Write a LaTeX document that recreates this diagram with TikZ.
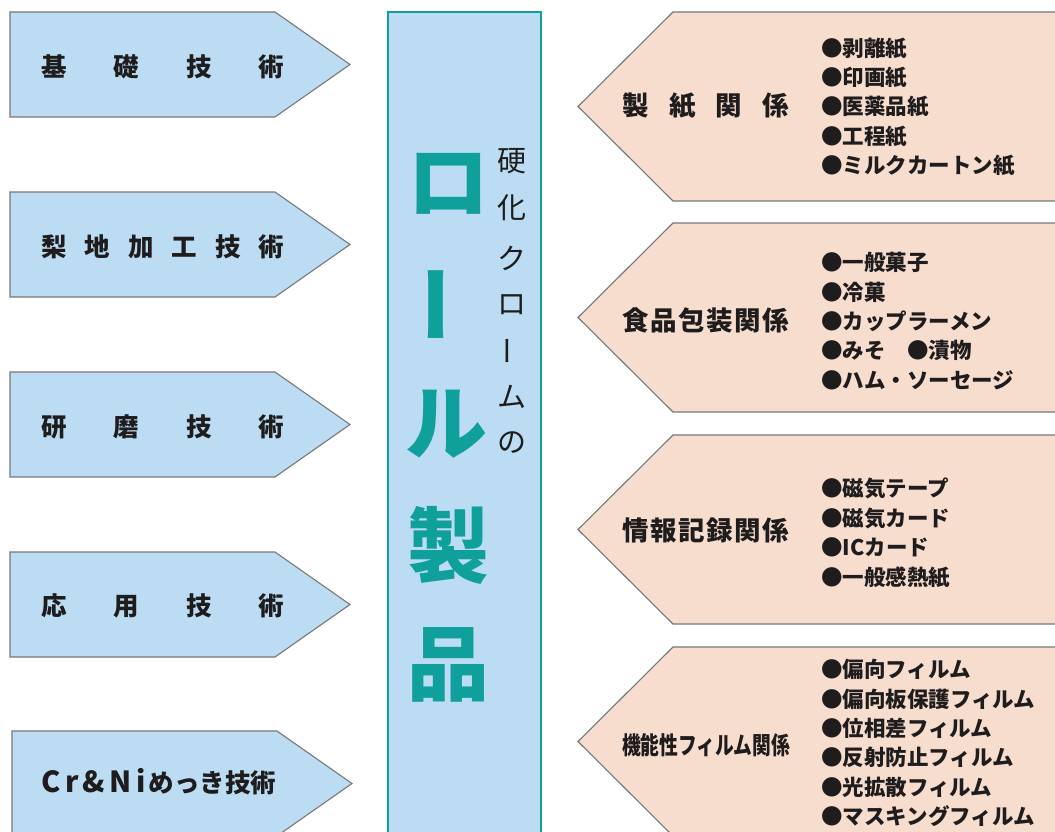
\documentclass[tikz,border=0pt]{standalone}
\usepackage{fontspec}
\setmainfont{Noto Sans CJK JP}
\definecolor{lblue}{RGB}{187,220,242}
\definecolor{peach}{RGB}{246,221,206}
\definecolor{edgegray}{RGB}{120,120,120}
\definecolor{teal}{RGB}{16,160,156}
\definecolor{ink}{RGB}{30,28,28}
\begin{document}
\begin{tikzpicture}[x=1pt,y=-1pt,
  lshape/.style={fill=lblue, draw=edgegray, line width=1.1pt, line join=miter},
  rshape/.style={fill=peach, draw=edgegray, line width=1.1pt, line join=miter},
  ltext/.style={font=\bfseries\fontsize{25.5}{25.5}\selectfont, text=ink, inner sep=0pt, anchor=west},
  rtext/.style={font=\bfseries\fontsize{26.5}{26.5}\selectfont, text=ink, inner sep=0pt, anchor=west},
  ftext/.style={font=\bfseries\fontsize{23}{23}\selectfont, text=ink, inner sep=0pt, anchor=west},
  list/.style={font=\bfseries\fontsize{21.5}{29.4}\selectfont, text=ink, inner sep=0pt, anchor=west, align=left},
  big/.style={font=\bfseries\fontsize{82}{82}\selectfont, text=teal, inner sep=0pt},
  small/.style={font=\fontsize{29}{29}\selectfont, text=ink, inner sep=0pt}
]
\clip (0,0) rectangle (1055,832);
\fill[white] (0,0) rectangle (1055,832);

% left arrows
\foreach \t in {12,192,372,552}{
  \draw[lshape] (10,\t) -- (275,\t) -- (350,\t+52.5) -- (275,\t+105) -- (10,\t+105) -- cycle;
}
\draw[lshape] (12,731) -- (277,731) -- (352,783.5) -- (277,836) -- (12,836) -- cycle;

\node[ltext] (kiso) at (41,67) {\makebox[243pt]{基\hfill 礎\hfill 技\hfill 術}};
\node[ltext] (nashiji) at (41,247) {\makebox[243pt]{梨\hfill 地\hfill 加\hfill 工\hfill 技\hfill 術}};
\node[ltext] (kenma) at (41,427) {\makebox[243pt]{研\hfill 磨\hfill 技\hfill 術}};
\node[ltext] (ouyou) at (41,606) {\makebox[243pt]{応\hfill 用\hfill 技\hfill 術}};
\node[ltext] (mekki) at (41,782) {{\fontsize{29}{29}\selectfont C\kern4.5pt r\kern4.5pt \&\kern4.5pt N\kern4.5pt i\kern3pt}めっき技術};

% center column
\draw[fill=lblue, draw=teal, line width=2pt] (388,12) rectangle (541,840);
\node[big] (c1) at (448,184) {ロ};
\node[big, rotate=90] (c2) at (448,304) {ー};
\node[big] (c3) at (446,424) {ル};
\node[big] (c4) at (448,545) {製};
\node[big] (c5) at (448,665) {品};

\node[small] (s1) at (512,161) {硬};
\node[small] (s2) at (512,208) {化};
\node[small] (s3) at (512,258) {ク};
\node[small] (s4) at (512,305) {ロ};
\node[small, rotate=90] (s5) at (512,351) {ー};
\node[small] (s6) at (512,397) {ム};
\node[small] (s7) at (512,443) {の};

% right arrows
\foreach \t in {12,223,435,647}{
  \draw[rshape] (1070,\t) -- (673,\t) -- (578,\t+94.5) -- (673,\t+189) -- (1070,\t+189);
}

\node[rtext] (seishi) at (622,106) {\makebox[167pt]{製\hfill 紙\hfill 関\hfill 係}};
\node[rtext] (shokuhin) at (622,320) {\makebox[167pt]{食\hfill 品\hfill 包\hfill 装\hfill 関\hfill 係}};
\node[rtext] (jouhou) at (622,530) {\makebox[167pt]{情\hfill 報\hfill 記\hfill 録\hfill 関\hfill 係}};
\node[ftext] (kinou) at (622,745) {\resizebox{168pt}{21pt}{機能性フィルム関係}};

\node[list] (l1) at (821,107) {●剥離紙\\●印画紙\\●医薬品紙\\●工程紙\\●ミルクカートン紙};
\node[list] (l2) at (821,321) {●一般菓子\\●冷菓\\●カップラーメン\\●みそ　●漬物\\●ハム・ソーセージ};
\node[list] (l3) at (821,533) {●磁気テープ\\●磁気カード\\●ICカード\\●一般感熱紙};
\node[list] (l4) at (821,743) {●偏向フィルム\\●偏向板保護フィルム\\●位相差フィルム\\●反射防止フィルム\\●光拡散フィルム\\●マスキングフィルム};
\end{tikzpicture}
\end{document}
